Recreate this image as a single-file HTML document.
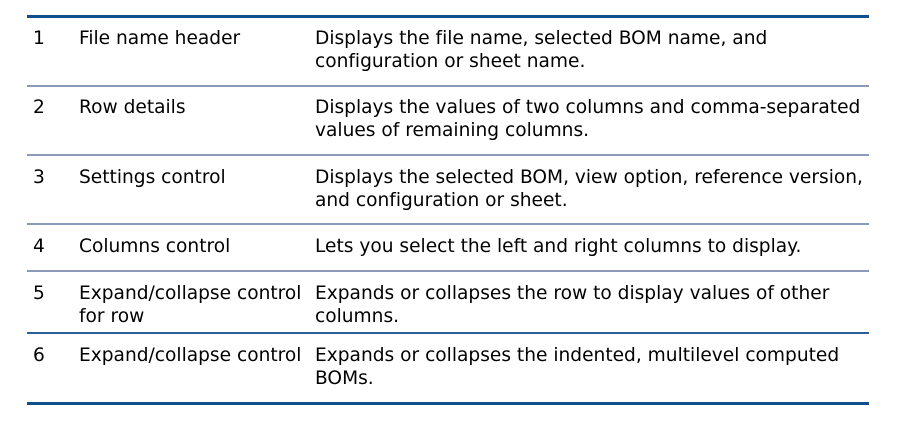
<!DOCTYPE html>
<html><head><meta charset="utf-8"><style>
body{margin:0;width:902px;height:421px;background:#fff;position:relative;overflow:hidden;font-family:"DejaVu Sans","Liberation Sans",sans-serif;font-size:18.6px;color:#000;font-variant-ligatures:none}
.l{position:absolute;left:27px;width:842px}
.t{position:absolute;line-height:23px;white-space:nowrap}
</style></head><body>
<div class="l" style="top:15px;height:3px;background:#0f4f8c"></div>
<div class="l" style="top:85px;height:2px;background:#8a9ab8"></div>
<div class="l" style="top:154px;height:2px;background:#8a9ab8"></div>
<div class="l" style="top:223px;height:2px;background:#8a9ab8"></div>
<div class="l" style="top:270px;height:2px;background:#8a9ab8"></div>
<div class="l" style="top:332px;height:2px;background:#2a5f98"></div>
<div class="l" style="top:402px;height:3px;background:#0f4f8c"></div>

<div class="t" style="left:33px;top:27px">1</div>
<div class="t" style="left:79px;top:27px">File name header</div>
<div class="t" style="left:315px;top:27px">Displays the file name, selected BOM name, and<br>configuration or sheet name.</div>

<div class="t" style="left:33px;top:96px">2</div>
<div class="t" style="left:79px;top:96px">Row details</div>
<div class="t" style="left:315px;top:96px">Displays the values of two columns and comma-separated<br>values of remaining columns.</div>

<div class="t" style="left:33px;top:166px">3</div>
<div class="t" style="left:79px;top:166px">Settings control</div>
<div class="t" style="left:315px;top:166px">Displays the selected BOM, view option, reference version,<br>and configuration or sheet.</div>

<div class="t" style="left:33px;top:235px">4</div>
<div class="t" style="left:79px;top:235px">Columns control</div>
<div class="t" style="left:315px;top:235px">Lets you select the left and right columns to display.</div>

<div class="t" style="left:33px;top:282px">5</div>
<div class="t" style="left:79px;top:282px">Expand/collapse control<br>for row</div>
<div class="t" style="left:315px;top:282px">Expands or collapses the row to display values of other<br>columns.</div>

<div class="t" style="left:33px;top:344px">6</div>
<div class="t" style="left:79px;top:344px">Expand/collapse control</div>
<div class="t" style="left:315px;top:344px">Expands or collapses the indented, multilevel computed<br>BOMs.</div>
</body></html>
